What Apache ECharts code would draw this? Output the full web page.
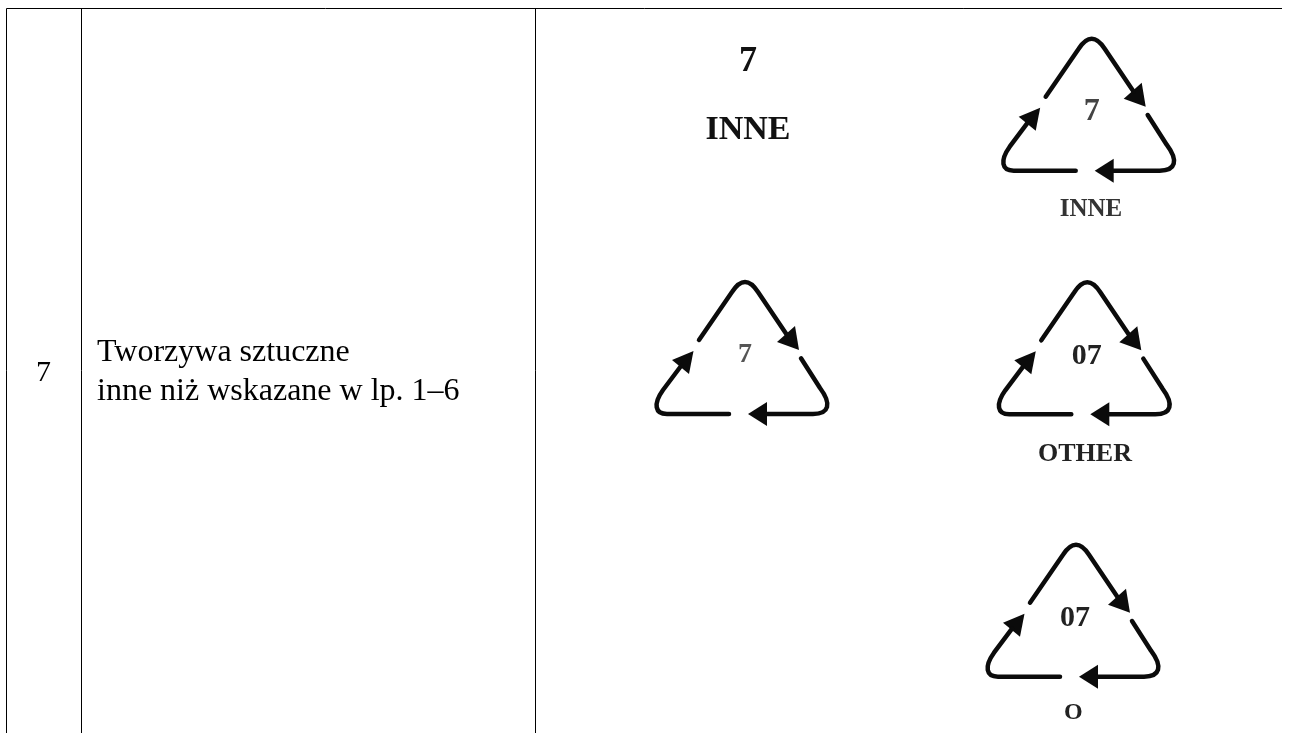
<!DOCTYPE html>
<html>
<head>
<meta charset="utf-8">
<title>Tworzywa sztuczne 7</title>
<style>
  html, body { margin: 0; padding: 0; background: #fff; }
  #chart { width: 1291px; height: 733px; }
</style>
</head>
<body>
<div id="chart"></div>
<script src="https://cdn.jsdelivr.net/npm/echarts@6/dist/echarts.min.js"></script>
<script>
// table rules: [x1, y1, x2, y2]
const tableRules = [
  [6.5, 8.5, 1282, 8.5],
  [6.5, 8.5, 6.5, 733],
  [81.5, 8.5, 81.5, 733],
  [535.5, 8.5, 535.5, 733]
];

// recycling triangles: [apex x, base y]
const triangles = [
  [1091.7, 170.7],
  [745, 414],
  [1087.3, 414.3],
  [1076, 676.7]
];

// outline of one triangle, measured from apex x / base y
const arcTop = "M-46 -74 L-13 -122 Q0 -142 13 -122 L42 -79";
const arcRight = "M56 -55.7 L75 -26 C87 -10 84 0 68 0 L21 0";
const arcLeft = "M-16 0 L-78 0 C-90 0 -92 -10 -82 -24 L-64 -48";
const arrowHeads = [
  [[54, -64], [32, -72], [50, -88]],
  [[3, 0], [22, -12], [22, 12]],
  [[-51.5, -63], [-73, -54], [-56, -40]]
];

// body text of the table: [text, x, y, size]
const bodyTexts = [
  ["7", 43.5, 373, 30],
  ["Tworzywa sztuczne", 97, 352.5, 32],
  ["inne niż wskazane w lp. 1–6", 97, 391.5, 32]
];

// marks next to the triangles: [text, x, y, size, colour]
const symbolTexts = [
  ["7", 748, 62, 36, "#111"],
  ["INNE", 748, 130, 34, "#111"],
  ["7", 1091.7, 112, 32, "#444"],
  ["INNE", 1091, 210, 25, "#333"],
  ["7", 745, 355, 28, "#555"],
  ["07", 1086.7, 356, 30, "#222"],
  ["OTHER", 1085, 454.5, 26, "#222"],
  ["07", 1075, 618.5, 30, "#222"],
  ["O", 1073.3, 712.5, 24, "#222"]
];

const chart = echarts.init(document.getElementById("chart"));

// moves a path written around 0,0 to the apex/base point
function shiftPath(path, dx, dy) {
  return path.replace(/(-?[\d.]+) (-?[\d.]+)/g, (m, x, y) => (+x + dx) + " " + (+y + dy));
}

const option = {
  animation: false,
  backgroundColor: "#fff",
  grid: { left: 0, right: 0, top: 0, bottom: 0 },
  xAxis: { type: "value", min: 0, max: 1291, show: false },
  yAxis: { type: "value", min: 0, max: 733, inverse: true, show: false },
  series: [
    {
      name: "rules",
      type: "custom",
      silent: true,
      data: tableRules,
      clip: false,
      renderItem(params, api) {
        const a = api.coord([api.value(0), api.value(1)]);
        const b = api.coord([api.value(2), api.value(3)]);
        return {
          type: "line",
          shape: { x1: a[0], y1: a[1], x2: b[0], y2: b[1] },
          style: { stroke: "#000", lineWidth: 1 }
        };
      }
    },
    {
      name: "triangles",
      type: "custom",
      silent: true,
      data: triangles,
      renderItem(params, api) {
        const p = api.coord([api.value(0), api.value(1)]);
        const children = arrowHeads.map(head => ({
          type: "polygon",
          shape: { points: head.map(h => [p[0] + h[0], p[1] + h[1]]) },
          style: { fill: "#0b0b0b" }
        }));
        [arcTop, arcRight, arcLeft].forEach(path => {
          children.push({
            type: "path",
            shape: { pathData: shiftPath(path, p[0], p[1]) },
            style: { fill: "none", stroke: "#0b0b0b", lineWidth: 4.5, lineCap: "round", lineJoin: "round" }
          });
        });
        return { type: "group", children: children };
      }
    },
    {
      name: "body",
      type: "custom",
      silent: true,
      data: bodyTexts.map(t => [t[1], t[2]]),
      renderItem(params, api) {
        const p = api.coord([api.value(0), api.value(1)]);
        const t = bodyTexts[params.dataIndex];
        return {
          type: "text",
          x: p[0],
          y: p[1],
          style: {
            text: t[0],
            fontFamily: "Liberation Serif",
            fontSize: t[3],
            fill: "#000",
            align: params.dataIndex === 0 ? "center" : "left",
            verticalAlign: "middle"
          }
        };
      }
    },
    {
      name: "symbols",
      type: "custom",
      silent: true,
      data: symbolTexts.map(t => [t[1], t[2]]),
      renderItem(params, api) {
        const p = api.coord([api.value(0), api.value(1)]);
        const t = symbolTexts[params.dataIndex];
        return {
          type: "text",
          x: p[0],
          y: p[1],
          style: {
            text: t[0],
            fontFamily: "Liberation Serif",
            fontWeight: "bold",
            fontSize: t[3],
            fill: t[4],
            align: "center",
            verticalAlign: "middle"
          }
        };
      }
    }
  ]
};

chart.setOption(option);
</script>
</body>
</html>
